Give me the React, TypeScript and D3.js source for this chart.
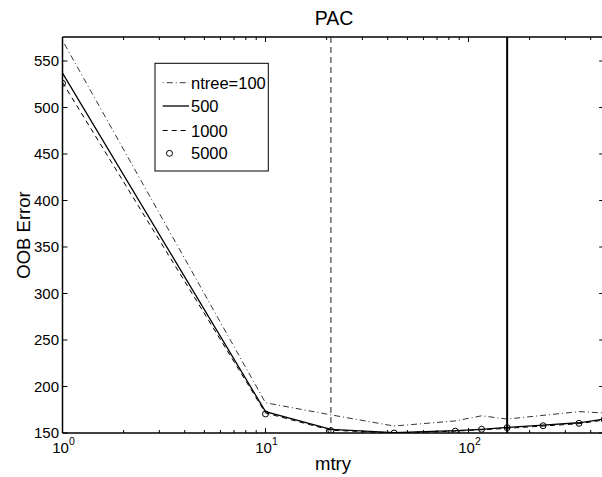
import React from "react";
import * as d3 from "d3";

const mtry = [1, 10, 21, 43, 86, 116, 155, 233, 350, 466];
const ntree100 = [572, 182.5, 169.5, 157.5, 163, 168.5, 165, 169, 173, 171.5];
const ntree500 = [537, 173, 154, 150.5, 152.5, 154, 156, 158.5, 161, 165];
const ntree1000 = [527, 171.5, 153, 150, 152, 153.5, 155, 157.5, 160, 164];
const ntree5000 = [526, 170.5, 152.5, 150, 152, 154, 155.7, 157.8, 160.4, 164.5];
const yTicks = [150, 200, 250, 300, 350, 400, 450, 500, 550];
const xMajor = [1, 10, 100];
const xMinor = [2, 3, 4, 5, 6, 7, 8, 9, 20, 30, 40, 50, 60, 70, 80, 90, 200, 300, 400];
const vSqrt = 21;
const vThird = 155;
const legendLabels = ["ntree=100", "500", "1000", "5000"];

const W = 602;
const H = 477;
const left = 62.5;
const top = 37;
const bottom = 433;
const decade = 203;
const right = left + decade * Math.log10(466);
const FONT = "'Liberation Sans', Arial, Helvetica, sans-serif";

export default function App() {
  const x = d3.scaleLog().domain([1, 466]).range([left, right]);
  const y = d3.scaleLinear().domain([150, 575.8]).range([bottom, top]);
  const line = (vals: number[]) =>
    d3.line<number>().x((_, i) => x(mtry[i])).y((v) => y(v))(vals) || "";

  const lx0 = 162.7;
  const lx1 = 189;
  const legY = [82.7, 106, 130.5, 153.3];

  return (
    <svg width={W} height={H} style={{ position: "absolute", left: 0, top: 0, background: "#fff" }} fontFamily={FONT}>
      <defs>
        <clipPath id="plot">
          <rect x={left} y={top} width={right - left} height={bottom - top} />
        </clipPath>
      </defs>
      <rect x={0} y={0} width={W} height={H} fill="#fff" />
      {/* title */}
      <text x={334} y={25} textAnchor="middle" fontSize={19.5}>PAC</text>
      {/* y label */}
      <text transform={`translate(30,${(top + bottom) / 2}) rotate(-90)`} textAnchor="middle" fontSize={18.5}>OOB Error</text>
      {/* x label */}
      <text x={333} y={470} textAnchor="middle" fontSize={18.5}>mtry</text>

      <g clipPath="url(#plot)">
        <line x1={x(vSqrt)} x2={x(vSqrt)} y1={top} y2={bottom} stroke="#222" strokeWidth={1} strokeDasharray="6,4" />
        <line x1={x(vThird)} x2={x(vThird)} y1={top} y2={bottom} stroke="#000" strokeWidth={2} />
        <path d={line(ntree100)} fill="none" stroke="#000" strokeWidth={0.8} strokeDasharray="1,3,6,3" />
        <path d={line(ntree500)} fill="none" stroke="#000" strokeWidth={1.3} />
        <path d={line(ntree1000)} fill="none" stroke="#000" strokeWidth={1} strokeDasharray="5,4" />
        {ntree5000.map((v, i) => (
          <circle key={i} cx={x(mtry[i])} cy={y(v)} r={3} fill="none" stroke="#000" strokeWidth={1} />
        ))}
      </g>

      {/* axes box */}
      <g stroke="#000" strokeWidth={1.5} fill="none">
        <line x1={left} x2={right} y1={bottom} y2={bottom} />
        <line x1={left} x2={right} y1={top} y2={top} />
        <line x1={left} x2={left} y1={top} y2={bottom} />
        <line x1={right} x2={right} y1={top} y2={bottom} />
      </g>
      {/* y ticks */}
      {yTicks.map((t) => (
        <g key={t}>
          <line x1={left} x2={left + 5} y1={y(t)} y2={y(t)} stroke="#000" strokeWidth={1} />
          <line x1={right} x2={right - 5} y1={y(t)} y2={y(t)} stroke="#000" strokeWidth={1} />
          <text x={left - 3.5} y={y(t) + 5.3} textAnchor="end" fontSize={15}>{t}</text>
        </g>
      ))}
      {/* x ticks */}
      {xMajor.map((t, i) => (
        <g key={t}>
          <line x1={x(t)} x2={x(t)} y1={bottom} y2={bottom - 5} stroke="#000" strokeWidth={1} />
          <line x1={x(t)} x2={x(t)} y1={top} y2={top + 5} stroke="#000" strokeWidth={1} />
          <text x={x(t) + 1} y={453} textAnchor="middle" fontSize={15}>
            10<tspan dy={-8} fontSize={10.5}>{i}</tspan>
          </text>
        </g>
      ))}
      {xMinor.map((t) => (
        <g key={t}>
          <line x1={x(t)} x2={x(t)} y1={bottom} y2={bottom - 3} stroke="#000" strokeWidth={1} />
          <line x1={x(t)} x2={x(t)} y1={top} y2={top + 3} stroke="#000" strokeWidth={1} />
        </g>
      ))}

      {/* legend */}
      <rect x={155} y={63.3} width={113.3} height={107.7} fill="#fff" stroke="#000" strokeWidth={1} />
      <line x1={lx0} x2={lx1} y1={legY[0]} y2={legY[0]} stroke="#000" strokeWidth={0.8} strokeDasharray="1,3,6,3" />
      <line x1={lx0} x2={lx1} y1={legY[1]} y2={legY[1]} stroke="#000" strokeWidth={1.3} />
      <line x1={lx0} x2={lx1} y1={legY[2]} y2={legY[2]} stroke="#000" strokeWidth={1} strokeDasharray="5,4" />
      <circle cx={169.5} cy={legY[3]} r={3} fill="none" stroke="#000" strokeWidth={1} />
      {legendLabels.map((l, i) => (
        <text key={l} x={191} y={legY[i] + 6} fontSize={16.5}>{l}</text>
      ))}
    </svg>
  );
}
